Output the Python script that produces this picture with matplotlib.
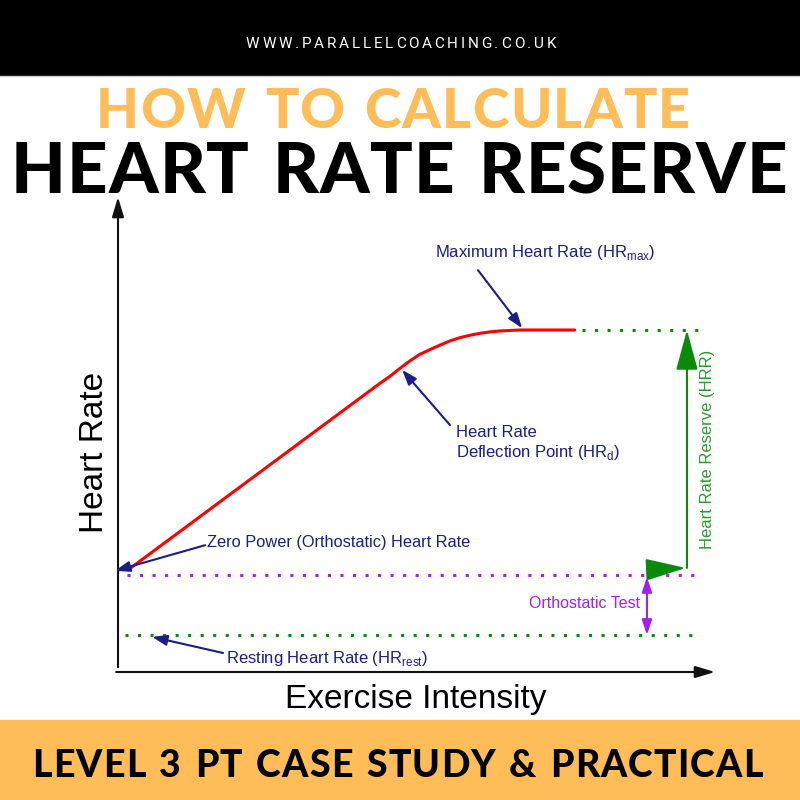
import numpy as np
import matplotlib
matplotlib.use("Agg")
import matplotlib.pyplot as plt
from matplotlib.patches import Rectangle

plt.rcParams['font.family'] = ['Liberation Sans', 'DejaVu Sans']
plt.rcParams['mathtext.fontset'] = 'custom'
plt.rcParams['mathtext.rm'] = 'Liberation Sans'

# heart rate curve, both axes on a 0-100 scale
intensity = [1.7, 43.9, 45.6, 47.2, 48.9, 50.6, 52.3, 53.9, 55.6, 57.3, 59.0,
             60.6, 62.3, 64.0, 65.7, 67.3, 76.5]
heart_rate = [21.5, 60.8, 62.3, 63.9, 65.5, 66.9, 67.9, 68.8, 69.7, 70.4, 70.9,
              71.3, 71.6, 71.8, 71.9, 72.0, 72.0]

hr_rest = 7.8
hr_ortho = 20.4
hr_max = 72.0
deflection = (47.6, 63.6)
max_point = (67.7, 72.4)

rest_line_x = [1.2, 96.8]
ortho_line_x = [1.5, 97.2]
max_line_x = [77.7, 97.2]
hrr_x = 95.3
ortho_test_x = 88.6

url = "WWW.PARALLELCOACHING.CO.UK"
title_top = "HOW TO CALCULATE"
title_main = "HEART RATE RESERVE"
footer = "LEVEL 3 PT CASE STUDY & PRACTICAL"

orange = '#FFBD59'
navy = '#1c1c88'
green = '#0a8a0a'
purple = '#a020f0'

fig = plt.figure(figsize=(8, 8), dpi=100)
fig.patch.set_facecolor('white')

# page layer in pixel units
ax0 = fig.add_axes([0, 0, 1, 1])
ax0.set_xlim(0, 800)
ax0.set_ylim(800, 0)
ax0.axis('off')
ax0.add_patch(Rectangle((0, 0), 800, 75, color='black', zorder=0))
ax0.plot([0, 800], [76, 76], color='#cccccc', lw=1)
ax0.add_patch(Rectangle((0, 720), 800, 80, color=orange, zorder=0))

renderer = fig.canvas.get_renderer()


def spaced(s, x0, x1, y, **kw):
    widths = []
    for ch in s:
        t = ax0.text(0, 0, 'I' if ch == ' ' else ch, **kw)
        w = t.get_window_extent(renderer).width
        t.remove()
        widths.append(w)
    gap = (x1 - x0 - sum(widths)) / (len(s) - 1)
    x = x0
    for ch, w in zip(s, widths):
        if ch != ' ':
            ax0.text(x, y, ch, ha='left', va='baseline', **kw)
        x += w + gap


spaced(url, 246, 556, 48, fontsize=11, color='white', family='Roboto', weight='normal')
spaced(title_top, 96, 690, 128, fontsize=40, color=orange, family='Lato', weight='black')
spaced(title_main, 11, 787, 193, fontsize=51, color='black', family='Lato', weight='black')
spaced(footer, 32, 763, 777, fontsize=27, color='black', family='Lato', weight='black')

# chart layer
ax = fig.add_axes([118 / 800, 128 / 800, 597 / 800, 475 / 800])
ax.set_xlim(0, 100)
ax.set_ylim(0, 100)
ax.axis('off')
ax.patch.set_alpha(0)

axis_arrow = dict(arrowstyle='-|>,head_length=1.2,head_width=0.36', lw=1.5,
                  color='#111111', shrinkA=0, shrinkB=0, mutation_scale=10)
ax.annotate('', xy=(0, 100), xytext=(0, 1), arrowprops=axis_arrow, annotation_clip=False)
ax.annotate('', xy=(100, 0), xytext=(-0.3, 0), arrowprops=axis_arrow, annotation_clip=False)

ax.plot(intensity, heart_rate, color='red', lw=2.2, solid_capstyle='round',
        solid_joinstyle='round', zorder=3)

dots = (0, (1, 3.1))
ax.plot(rest_line_x, [hr_rest, hr_rest], color=green, lw=2.2, linestyle=dots)
ax.plot(ortho_line_x, [hr_ortho, hr_ortho], color=purple, lw=2.2, linestyle=dots)
ax.plot(max_line_x, [hr_max, hr_max], color=green, lw=2.2, linestyle=dots)

navy_arrow = dict(arrowstyle='-|>,head_length=0.9,head_width=0.32', lw=1.5,
                  color=navy, shrinkA=0, shrinkB=0, mutation_scale=10)
ax.annotate('', xy=max_point, xytext=(60.3, 84.6), arrowprops=navy_arrow)
ax.annotate('', xy=deflection, xytext=(55.6, 52.0), arrowprops=navy_arrow)
ax.annotate('', xy=(-0.5, 21.3), xytext=(14.6, 26.7), arrowprops=navy_arrow,
            annotation_clip=False)
ax.annotate('', xy=(5.7, 7.4), xytext=(17.6, 4.0), arrowprops=navy_arrow)

ax.text(53.1, 88.4, r'Maximum Heart Rate (HR$_{\mathrm{max}}$)', color=navy,
        fontsize=12, ha='left', va='center')
ax.text(56.6, 48.1, 'Heart Rate\n' + r'Deflection Point (HR$_{\mathrm{d}}$)', color=navy,
        fontsize=12, ha='left', va='center', linespacing=1.25)
ax.text(14.9, 27.2, 'Zero Power (Orthostatic) Heart Rate', color=navy,
        fontsize=11.8, ha='left', va='center')
ax.text(18.1, 2.9, r'Resting Heart Rate (HR$_{\mathrm{rest}}$)', color=navy,
        fontsize=12, ha='left', va='center')

# heart rate reserve arrow
green_head = dict(arrowstyle='-|>,head_length=2.5,head_width=0.68', lw=1.5,
                  color=green, shrinkA=0, shrinkB=0, mutation_scale=10)
ax.annotate('', xy=(hrr_x, hr_max), xytext=(hrr_x, 21.9), arrowprops=green_head)
ax.annotate('', xy=(hrr_x - 0.2, 21.9), xytext=(89.6, 21.6), arrowprops=green_head)
ax.text(98.7, 46.9, 'Heart Rate Reserve (HRR)', color='#2a9a2a', fontsize=12,
        rotation=90, ha='center', va='center')

purple_arrow = dict(arrowstyle='<|-|>,head_length=0.9,head_width=0.3', lw=1.5,
                    color=purple, shrinkA=0, shrinkB=0, mutation_scale=10)
ax.annotate('', xy=(ortho_test_x, hr_rest), xytext=(ortho_test_x, hr_ortho - 0.4),
            arrowprops=purple_arrow)
ax.text(87.4, 14.5, 'Orthostatic Test', color=purple, fontsize=11.5,
        ha='right', va='center')

ax.text(-3.9, 46.3, 'Heart Rate', fontsize=24, rotation=90, ha='center', va='center')
ax.text(49.9, -7.6, 'Exercise Intensity', fontsize=24, ha='center', va='baseline')

fig.savefig('out.png', dpi=100)
